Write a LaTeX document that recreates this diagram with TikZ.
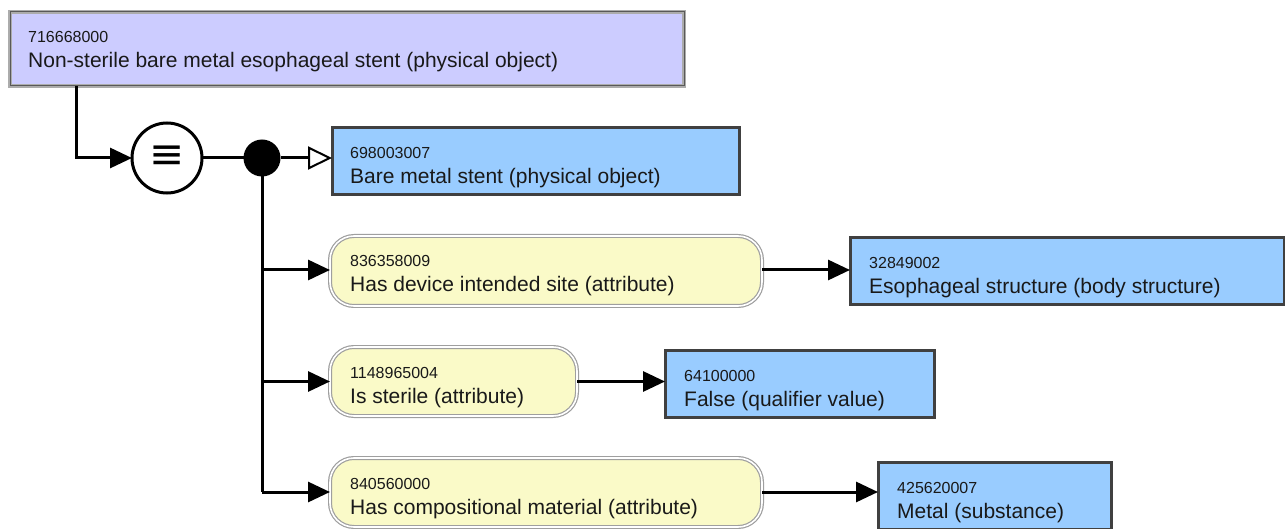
\documentclass[tikz,border=0pt]{standalone}
\usepackage{fontspec}
\setmainfont{Liberation Sans}
\newfontfamily\symfont{DejaVu Sans}
\usetikzlibrary{arrows.meta,calc}
\definecolor{lav}{RGB}{204,204,255}
\definecolor{lblue}{RGB}{153,204,255}
\definecolor{lyel}{RGB}{250,250,200}
\definecolor{txt}{RGB}{25,25,25}
\begin{document}
\begin{tikzpicture}[x=1pt,y=-1pt,
  conceptbox/.style={draw=black!75, line width=3pt, fill=lblue, anchor=north west, outer sep=0pt, inner sep=0pt},
  topbox/.style={draw=gray!65, double=black!65, double distance=1pt, line width=1.8pt, fill=lav, anchor=north west, outer sep=0pt, inner sep=0pt},
  attrbox/.style={draw=gray!75, double=white, double distance=1.6pt, line width=1.2pt, fill=lyel, rounded corners=24pt, anchor=north west, outer sep=0pt, inner sep=0pt},
  codetxt/.style={anchor=base west, inner sep=0pt, text=txt, font=\fontsize{16}{16}\selectfont},
  labtxt/.style={anchor=base west, inner sep=0pt, text=txt, font=\fontsize{21}{21}\selectfont},
  conn/.style={line width=3pt, black},
  arr/.style={conn, -{Triangle[length=22pt,width=20pt]}},
  isa/.style={conn, -{Triangle[open, length=24pt, width=23pt, line width=2pt]}}
]
\useasboundingbox (0,0) rectangle (1285,529);

% top concept
\node[topbox, minimum width=674pt, minimum height=74pt] (top) at (10,12) {};
\node[codetxt] (topc) at ([shift={(18,31)}]top.north west) {716668000};
\node[labtxt] (topl) at ([shift={(18,56)}]top.north west) {Non-sterile bare metal esophageal stent (physical object)};

% definition status circle
\node[circle, draw=black, line width=3pt, fill=white, minimum size=70pt, inner sep=0pt, outer sep=0pt] (eq) at (167,158) {};
\node[inner sep=0pt, font=\symfont\fontsize{42}{42}\selectfont] (eqs) at (167,157) {≡};
\node[circle, fill=black, minimum size=37pt, inner sep=0pt, outer sep=0pt] (dot) at (262,158) {};

% parent concept
\node[conceptbox, minimum width=407pt, minimum height=67pt] (p1) at (332,128) {};
\node[codetxt] (p1c) at ([shift={(18,31)}]p1.north west) {698003007};
\node[labtxt] (p1l) at ([shift={(18,56)}]p1.north west) {Bare metal stent (physical object)};

% attributes
\node[attrbox, minimum width=432pt, minimum height=70pt] (a1) at (330,236) {};
\node[codetxt] (a1c) at ([shift={(20,31)}]a1.north west) {836358009};
\node[labtxt] (a1l) at ([shift={(20,56)}]a1.north west) {Has device intended site (attribute)};

\node[attrbox, minimum width=247pt, minimum height=69pt] (a2) at (330,347) {};
\node[codetxt] (a2c) at ([shift={(20,31)}]a2.north west) {1148965004};
\node[labtxt] (a2l) at ([shift={(20,56)}]a2.north west) {Is sterile (attribute)};

\node[attrbox, minimum width=432pt, minimum height=69pt] (a3) at (330,458) {};
\node[codetxt] (a3c) at ([shift={(20,31)}]a3.north west) {840560000};
\node[labtxt] (a3l) at ([shift={(20,56)}]a3.north west) {Has compositional material (attribute)};

% values
\node[conceptbox, minimum width=434pt, minimum height=67pt] (v1) at (850,238) {};
\node[codetxt] (v1c) at ([shift={(19,31)}]v1.north west) {32849002};
\node[labtxt] (v1l) at ([shift={(19,56)}]v1.north west) {Esophageal structure (body structure)};

\node[conceptbox, minimum width=269pt, minimum height=67pt] (v2) at (665,350) {};
\node[codetxt] (v2c) at ([shift={(19,31)}]v2.north west) {64100000};
\node[labtxt] (v2l) at ([shift={(19,56)}]v2.north west) {False (qualifier value)};

\node[conceptbox, minimum width=233pt, minimum height=67pt] (v3) at (878,462) {};
\node[codetxt] (v3c) at ([shift={(19,31)}]v3.north west) {425620007};
\node[labtxt] (v3l) at ([shift={(19,56)}]v3.north west) {Metal (substance)};

% connectors
\coordinate (tl) at (76,86);
\draw[arr] (tl) |- (eq.west);
\draw[conn] (eq.east) -- (dot.west);
\draw[isa] (dot.east) -- (p1.west |- dot.east);
\coordinate (j3) at (262,492);
\draw[conn] (dot.south) -- (j3);
\draw[arr] (262,270) -- (262+68,270) coordinate (e1);
\draw[arr] (262,381.5) -- (a2.west);
\draw[arr] (j3) -- (a3.west |- j3);
\draw[arr] (a1.east |- e1) -- (v1.west |- e1);
\draw[arr] (a2.east) -- (v2.west |- a2.east);
\draw[arr] (a3.east |- j3) -- (v3.west |- j3);
\end{tikzpicture}
\end{document}
